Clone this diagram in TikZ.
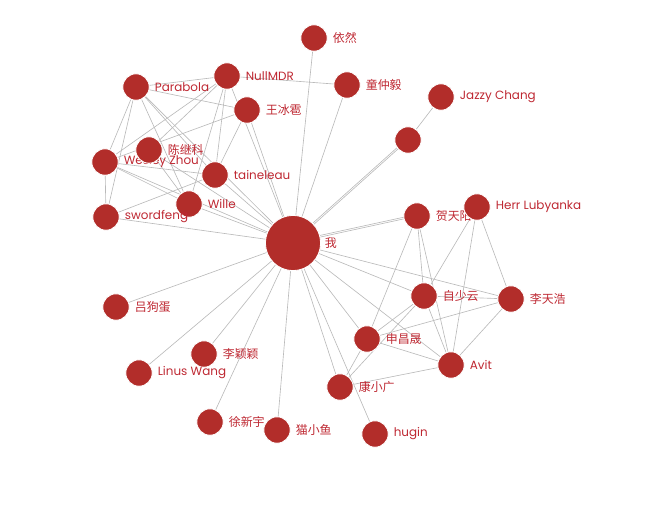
\documentclass[tikz,border=0pt]{standalone}
\usepackage{fontspec}
\setmainfont{Poppins}
\newfontfamily\cjk{Noto Sans CJK SC}
\usetikzlibrary{backgrounds}
\definecolor{nodered}{RGB}{178,45,42}
\definecolor{labelred}{RGB}{190,40,50}
\definecolor{linkgray}{RGB}{186,186,186}

\begin{document}
\begin{tikzpicture}[
  x=0.025cm, y=-0.025cm,
  person/.style={circle, fill=nodered, draw=white, line width=0.6pt,
    minimum size=0.66cm, inner sep=0pt},
  lbl/.style={font=\fontsize{8.5}{10}\selectfont\color{labelred}, inner sep=0.5pt},
  link/.style={draw=linkgray, line width=0.45pt}
]
\useasboundingbox (0,0) rectangle (648,506);

% Central node
\node[person, minimum size=1.38cm, label={[lbl, label distance=2pt]right:\cjk 我}] (me) at (293,243) {};

% Top
\node[person, label={[lbl, label distance=3pt]right:\cjk 依然}] (yiran) at (314,38) {};
\node[person, label={[lbl, label distance=3pt]right:\cjk 童仲毅}] (tong) at (347,85) {};
\node[person, label={[lbl, label distance=3pt]right:Jazzy Chang}] (jazzy) at (441,97) {};
\node[person] (anon) at (408,140) {};

% Left cluster
\node[person, label={[lbl, label distance=3pt]right:NullMDR}] (nullmdr) at (227,76) {};
\node[person, label={[lbl, label distance=3pt]right:Parabola}] (parabola) at (136,87) {};
\node[person, label={[lbl, label distance=3pt]right:\cjk 王冰雹}] (wang) at (247,110) {};
\node[person, label={[lbl, label distance=3pt]right:Wesley Zhou}] (wesley) at (105,162) {};
\node[person, label={[lbl, label distance=3pt]right:\cjk 陈继科}] (chen) at (149,150) {};
\node[person, label={[lbl, label distance=3pt]right:taineleau}] (taine) at (215,175) {};
\node[person, label={[lbl, label distance=3pt]right:Wille}] (wille) at (189,204) {};
\node[person, label={[lbl, label distance=3pt]right:swordfeng}] (sword) at (106,217) {};

% Right cluster
\node[person, label={[lbl, label distance=3pt]right:\cjk 贺天阳}] (he) at (417,216) {};
\node[person, label={[lbl, label distance=3pt]right:Herr Lubyanka}] (herr) at (477,207) {};
\node[person, label={[lbl, label distance=3pt]right:\cjk 自少云}] (zi) at (424,296) {};
\node[person, label={[lbl, label distance=3pt]right:\cjk 李天浩}] (lith) at (511,299) {};
\node[person, label={[lbl, label distance=3pt]right:\cjk 申昌晟}] (shen) at (367,339) {};
\node[person, label={[lbl, label distance=3pt]right:Avit}] (avit) at (451,365) {};
\node[person, label={[lbl, label distance=3pt]right:\cjk 康小广}] (kang) at (340,387) {};
\node[person, label={[lbl, label distance=3pt]right:hugin}] (hugin) at (375,434) {};

% Bottom left
\node[person, label={[lbl, label distance=3pt]right:\cjk 吕狗蛋}] (lv) at (116,307) {};
\node[person, label={[lbl, label distance=3pt]right:\cjk 李颖颖}] (liyy) at (204,354) {};
\node[person, label={[lbl, label distance=3pt]right:Linus Wang}] (linus) at (139,373) {};
\node[person, label={[lbl, label distance=3pt]right:\cjk 徐新宇}] (xu) at (210,422) {};
\node[person, label={[lbl, label distance=3pt]right:\cjk 猫小鱼}] (mao) at (277,430) {};

\begin{pgfonlayer}{background}
% Links from the centre
\draw[link] (me) -- (yiran);
\draw[link] (me) -- (tong);
\draw[link] (me) -- (anon);
\draw[link] ([yshift=1.5pt]me.center) -- ([yshift=1.5pt]anon.center);
\draw[link] (me) -- (he);
\draw[link] ([yshift=1.2pt]me.center) -- ([yshift=1.2pt]he.center);
\draw[link] (me) -- (zi);
\draw[link] (me) -- (lith);
\draw[link] (me) -- (avit);
\draw[link] (me) -- (shen);
\draw[link] (me) -- (kang);
\draw[link] (me) -- (hugin);
\draw[link] (me) -- (mao);
\draw[link] (me) -- (xu);
\draw[link] (me) -- (liyy);
\draw[link] (me) -- (linus);
\draw[link] (me) -- (lv);
\draw[link] (me) -- (sword);
\draw[link] (me) -- (wille);
\draw[link] (me) -- (taine);
\draw[link] (me) -- (wesley);
\draw[link] (me) -- (parabola);
\draw[link] (me) -- (chen);
\draw[link] (me) -- (wang);
\draw[link] (me) -- (nullmdr);
\draw[link] (anon) -- (jazzy);

% Left cluster links
\draw[link] (parabola) -- (nullmdr);
\draw[link] (parabola) -- (wang);
\draw[link] (parabola) -- (wesley);
\draw[link] (parabola) -- (sword);
\draw[link] (parabola) -- (wille);
\draw[link] (parabola) -- (taine);
\draw[link] (nullmdr) -- (tong);
\draw[link] (nullmdr) -- (wesley);
\draw[link] (nullmdr) -- (chen);
\draw[link] (nullmdr) -- (taine);
\draw[link] (nullmdr) -- (wille);
\draw[link] (wang) -- (wesley);
\draw[link] (wang) -- (taine);
\draw[link] (wesley) -- (taine);
\draw[link] (wesley) -- (wille);
\draw[link] (wesley) -- (sword);
\draw[link] (chen) -- (wille);
\draw[link] (sword) -- (taine);

% Right cluster links
\draw[link] (he) -- (zi);
\draw[link] (he) -- (avit);
\draw[link] (he) -- (shen);
\draw[link] (herr) -- (zi);
\draw[link] (herr) -- (lith);
\draw[link] (herr) -- (avit);
\draw[link] (zi) -- (lith);
\draw[link] (zi) -- (avit);
\draw[link] (zi) -- (shen);
\draw[link] (zi) -- (kang);
\draw[link] (lith) -- (avit);
\draw[link] (lith) -- (shen);
\draw[link] (shen) -- (avit);
\draw[link] (kang) -- (avit);
\draw[link] (kang) -- (shen);
\end{pgfonlayer}
\end{tikzpicture}
\end{document}
